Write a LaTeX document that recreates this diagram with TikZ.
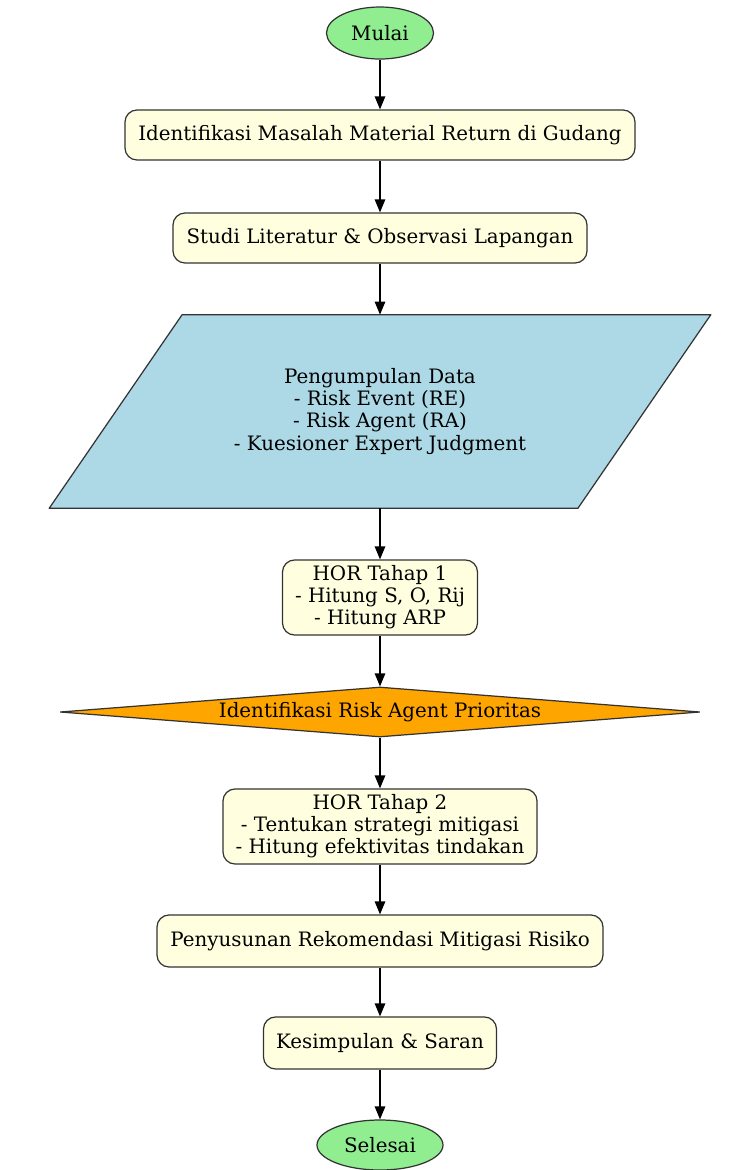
\documentclass[tikz,border=0pt]{standalone}
\usepackage{fontspec}
\setmainfont{DejaVu Serif}
\usepackage{tikz}
\usetikzlibrary{arrows.meta,shapes.geometric,backgrounds}
\usepackage{xcolor}
\definecolor{startgreen}{HTML}{90EE90}
\definecolor{boxyellow}{HTML}{FFFFE0}
\definecolor{datablue}{HTML}{ADD8E6}
\definecolor{decorange}{HTML}{FFA500}
\definecolor{edgegray}{HTML}{333333}

\begin{document}
\begin{tikzpicture}[
    font=\fontsize{11.3}{12.6}\selectfont,
    term/.style={ellipse,draw=edgegray,fill=startgreen,line width=.7pt,inner sep=0pt},
    proc/.style={rectangle,rounded corners=2.4mm,draw=edgegray,fill=boxyellow,line width=.7pt,align=center,inner sep=0pt},
    io/.style={rectangle,align=center,inner sep=0pt},
    iofill/.style={draw=edgegray,fill=datablue,line width=.7pt,line join=round},
    dec/.style={diamond,aspect=12.8,draw=edgegray,fill=decorange,line width=.7pt,inner sep=0pt},
    e/.style={-{Triangle[length=2.6mm,width=2.1mm]},line width=.7pt,black}
  ]
    \useasboundingbox (0,0) rectangle (14.94,-23.4);
    \node[term,minimum width=2.14cm,minimum height=1.04cm] (mulai) at (7.6,-.66) {Mulai};
    \node[proc,minimum width=10.2cm,minimum height=1cm] (masalah) at (7.6,-2.7) {Identifikasi Masalah Material Return di Gudang};
    \node[proc,minimum width=8.28cm,minimum height=1cm] (studi) at (7.6,-4.76) {Studi Literatur \& Observasi Lapangan};
    \node[io,minimum width=10.56cm,minimum height=3.86cm] (data) at (7.6,-8.23)
      {Pengumpulan Data\\- Risk Event (RE)\\- Risk Agent (RA)\\- Kuesioner Expert Judgment};
    % jajaran genjang di belakang teks data
    \begin{scope}[on background layer]
      \draw[iofill] ([xshift=1.33cm]data.north west) -- ([xshift=1.33cm]data.north east)
        -- ([xshift=-1.33cm]data.south east) -- ([xshift=-1.33cm]data.south west) -- cycle;
    \end{scope}
    \node[proc,minimum width=3.9cm,minimum height=1.5cm] (hor1) at (7.6,-11.95) {HOR Tahap 1\\- Hitung S, O, Rij\\- Hitung ARP};
    \node[dec,minimum width=12.8cm,minimum height=1cm] (prior) at (7.6,-14.24) {Identifikasi Risk Agent Prioritas};
    \node[proc,minimum width=6.28cm,minimum height=1.5cm] (hor2) at (7.6,-16.53)
      {HOR Tahap 2\\- Tentukan strategi mitigasi\\- Hitung efektivitas tindakan};
    \node[proc,minimum width=8.92cm,minimum height=1.04cm] (rekom) at (7.6,-18.82) {Penyusunan Rekomendasi Mitigasi Risiko};
    \node[proc,minimum width=4.66cm,minimum height=1.04cm] (simpul) at (7.6,-20.86) {Kesimpulan \& Saran};
    \node[term,minimum width=2.52cm,minimum height=1cm] (selesai) at (7.6,-22.9) {Selesai};
    \foreach \s/\t in {mulai/masalah,masalah/studi,studi/data,data/hor1,hor1/prior,prior/hor2,hor2/rekom,rekom/simpul,simpul/selesai}
      {\draw[e] (\s)--(\t);}
  \end{tikzpicture}
\end{document}
